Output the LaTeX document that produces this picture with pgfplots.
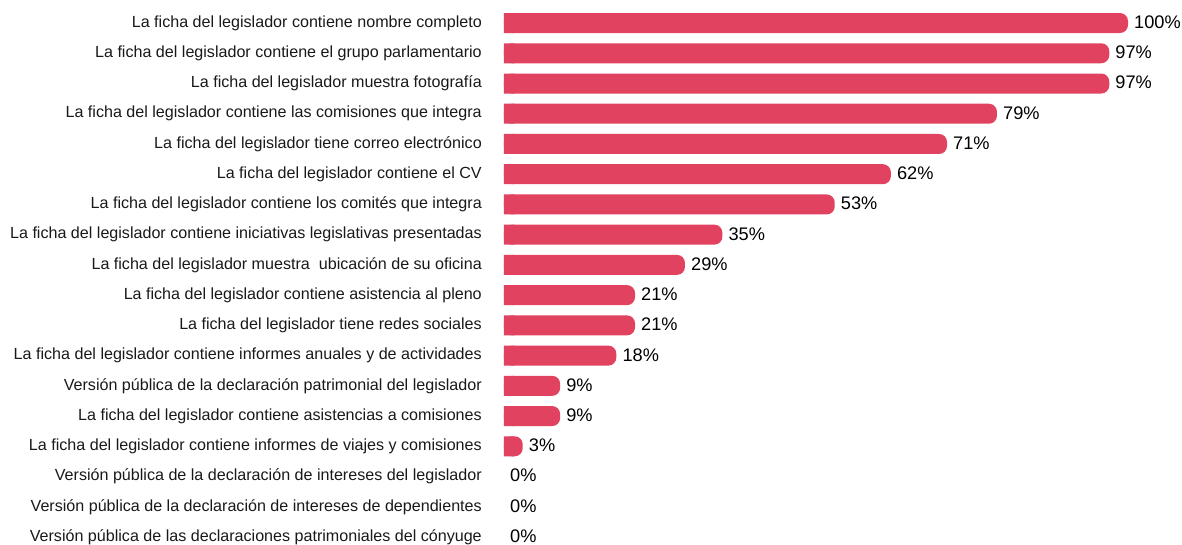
\documentclass[border=0pt]{standalone}
\usepackage{pgfplots}
\pgfplotsset{compat=1.18}
\usepackage{fontspec}
\setmainfont{Liberation Sans}
\definecolor{barred}{RGB}{224,66,96}
\begin{document}
\begin{tikzpicture}
\useasboundingbox (-504pt,0pt) rectangle (678pt,544pt);
\begin{axis}[
  at={(0pt,0pt)}, anchor=south west,
  scale only axis,
  width=624pt, height=544pt,
  xmin=0, xmax=100,
  ymin=-0.762, ymax=17.232,
  y dir=reverse,
  axis line style={draw=none},
  tick style={draw=none},
  major tick length=0pt,
  xtick=\empty,
  ytick={0,...,17},
  yticklabels={
    La ficha del legislador contiene nombre completo,
    La ficha del legislador contiene el grupo parlamentario,
    La ficha del legislador muestra fotografía,
    La ficha del legislador contiene las comisiones que integra,
    La ficha del legislador tiene correo electrónico,
    La ficha del legislador contiene el CV,
    La ficha del legislador contiene los comités que integra,
    La ficha del legislador contiene iniciativas legislativas presentadas,
    La ficha del legislador muestra\ \ ubicación de su oficina,
    La ficha del legislador contiene asistencia al pleno,
    La ficha del legislador tiene redes sociales,
    La ficha del legislador contiene informes anuales y de actividades,
    Versión pública de la declaración patrimonial del legislador,
    La ficha del legislador contiene asistencias a comisiones,
    La ficha del legislador contiene informes de viajes y comisiones,
    Versión pública de la declaración de intereses del legislador,
    Versión pública de la declaración de intereses de dependientes,
    Versión pública de las declaraciones patrimoniales del cónyuge},
  yticklabel style={font=\fontsize{16.1}{19}\selectfont, anchor=east, inner sep=0pt, xshift=-22pt, text=black!90},
  /pgf/number format/assume math mode=true,
  clip=false,
]
% rounded bars (non-zero values)
\addplot[xbar, bar shift=0pt, bar width=20pt, fill=barred, draw=none, rounded corners=8pt]
  coordinates {(100,0) (97,1) (97,2) (79,3) (71,4) (62,5) (53,6) (35,7) (29,8) (21,9) (21,10) (18,11) (9,12) (9,13) (3,14)};
% square left ends
\addplot[xbar, bar shift=0pt, bar width=20pt, fill=barred, draw=none]
  coordinates {(1.6,0) (1.6,1) (1.6,2) (1.6,3) (1.6,4) (1.6,5) (1.6,6) (1.6,7) (1.6,8) (1.6,9) (1.6,10) (1.6,11) (1.6,12) (1.6,13) (1.6,14)};
% value labels
\addplot[xbar, bar shift=0pt, bar width=20pt, draw=none, fill=none,
  nodes near coords={\pgfmathprintnumber{\pgfplotspointmeta}\%},
  nodes near coords style={font=\fontsize{18.2}{21}\selectfont, anchor=west, inner sep=0pt, xshift=6pt, yshift=0.8pt, text=black},
  point meta=x]
  coordinates {(100,0) (97,1) (97,2) (79,3) (71,4) (62,5) (53,6) (35,7) (29,8) (21,9) (21,10) (18,11) (9,12) (9,13) (3,14) (0,15) (0,16) (0,17)};
\end{axis}
\end{tikzpicture}
\end{document}
